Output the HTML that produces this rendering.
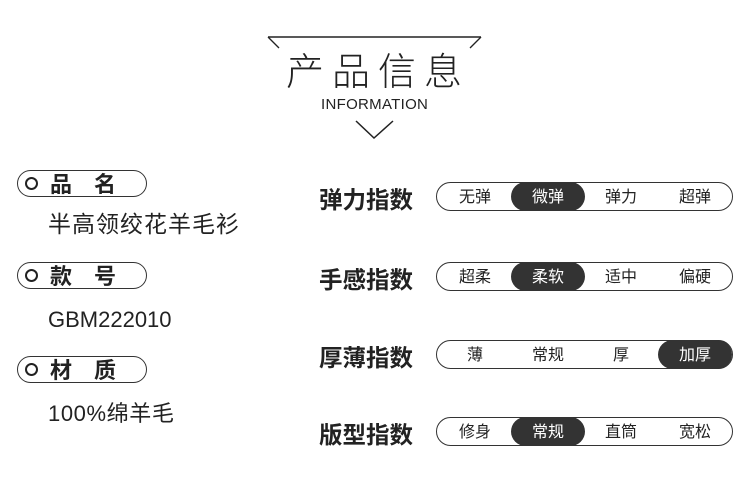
<!DOCTYPE html><html><head><meta charset="utf-8"><style>
body{margin:0;width:750px;height:479px;background:#fff;position:relative;overflow:hidden;font-family:"Liberation Sans","Noto Sans CJK SC",sans-serif;color:#222}
.a{position:absolute}
.pill{position:absolute;left:17px;width:130px;height:27px;border:1.3px solid #333;border-radius:14px;box-sizing:border-box}
.pill i{position:absolute;left:7px;top:6px;width:9px;height:9px;border:2.5px solid #222;border-radius:50%}
.pill span{position:absolute;left:32px;top:-4px;font-size:22px;font-weight:bold;letter-spacing:22px;white-space:nowrap}
.val{position:absolute;left:48px;font-size:22px;white-space:nowrap}
.lab{position:absolute;left:319px;font-size:23.5px;font-weight:bold;white-space:nowrap}
.bar{position:absolute;left:436px;width:297px;height:29px;border:1.3px solid #333;border-radius:15px;box-sizing:border-box}
.bar div{position:absolute;top:-1px;width:74px;height:29px;line-height:31px;text-align:center;font-size:16px;border-radius:15px}
.bar .s{background:#333;color:#fff}
</style></head><body>
<svg class="a" style="left:0;top:0" width="750" height="150">
<polyline points="268,37 481,37" stroke="#222" stroke-width="1.5" fill="none"/>
<line x1="268" y1="37" x2="279" y2="48" stroke="#222" stroke-width="1.3"/>
<line x1="481" y1="37" x2="470" y2="48" stroke="#222" stroke-width="1.3"/>
<polyline points="356,121 374,138 393,121" stroke="#222" stroke-width="1.5" fill="none"/>
</svg>
<div class="a" style="left:286px;top:41px;font-size:38px;letter-spacing:8px;white-space:nowrap;font-family:'Noto Sans CJK SC',sans-serif;font-weight:300">产品信息</div>
<div class="a" style="left:321px;top:96px;font-size:15px;letter-spacing:0.3px">INFORMATION</div>

<div class="pill" style="top:170px"><i></i><span>品名</span></div>
<div class="val" style="top:205px;font-size:23px;letter-spacing:1px">半高领绞花羊毛衫</div>
<div class="pill" style="top:262px"><i></i><span>款号</span></div>
<div class="val" style="top:307px">GBM222010</div>
<div class="pill" style="top:356px"><i></i><span>材质</span></div>
<div class="val" style="top:396px;letter-spacing:0.6px">100%绵羊毛</div>

<div class="lab" style="top:181px">弹力指数</div>
<div class="bar" style="top:182px"><div style="left:1px">无弹</div><div class="s" style="left:74px">微弹</div><div style="left:147px">弹力</div><div style="left:221px">超弹</div></div>
<div class="lab" style="top:261px">手感指数</div>
<div class="bar" style="top:262px"><div style="left:1px">超柔</div><div class="s" style="left:74px">柔软</div><div style="left:147px">适中</div><div style="left:221px">偏硬</div></div>
<div class="lab" style="top:339px">厚薄指数</div>
<div class="bar" style="top:340px"><div style="left:1px">薄</div><div style="left:74px">常规</div><div style="left:147px">厚</div><div class="s" style="left:221px">加厚</div></div>
<div class="lab" style="top:416px">版型指数</div>
<div class="bar" style="top:417px"><div style="left:1px">修身</div><div class="s" style="left:74px">常规</div><div style="left:147px">直筒</div><div style="left:221px">宽松</div></div>
</body></html>
